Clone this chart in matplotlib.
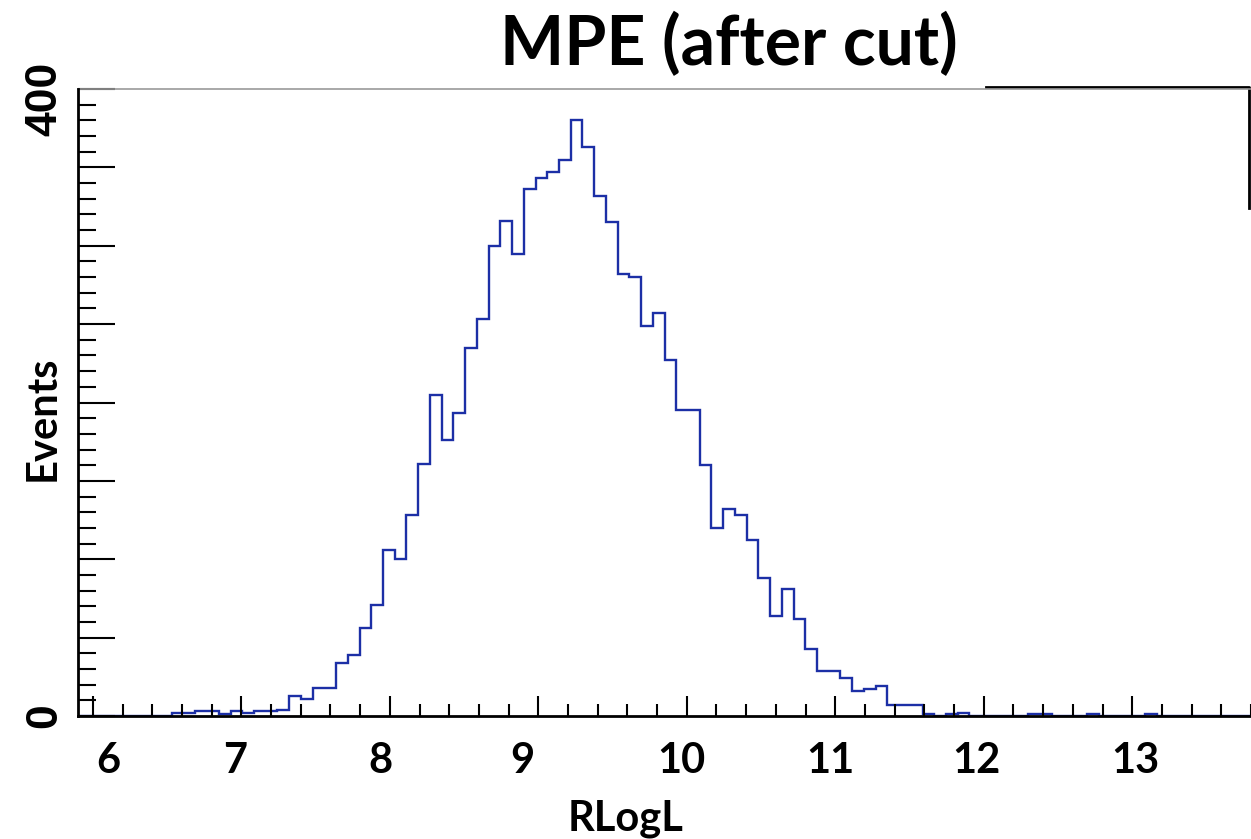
import numpy as np
import matplotlib.pyplot as plt
from matplotlib.ticker import MultipleLocator
from matplotlib.transforms import ScaledTranslation

# histogram binning (100 bins)
x_lo, x_hi, n_bins = 5.9, 13.8, 100
counts = [
    0, 0, 0, 0, 0, 0, 0, 0,
    2, 2, 3, 3, 1, 3, 2, 3, 3, 4,
    13, 11, 18, 18, 34, 39, 56, 71, 106, 100,
    128, 161, 205, 176, 193, 235, 253, 300, 316, 295,
    336, 343, 347, 355, 380, 363, 332, 315, 282, 280,
    249, 257, 227, 195, 195, 160, 120, 132, 128, 112,
    88, 64, 81, 62, 43, 29, 29, 24, 16, 17,
    19, 7, 7, 7, 1, 0, 1, 2, 0, 0,
    0, 0, 0, 1, 1, 0, 0, 0, 1, 0,
    0, 0, 0, 1, 0, 0, 0, 0, 0, 0,
    0, 0,
]
x_ticks = [6, 7, 8, 9, 10, 11, 12, 13]
x_tick_labels = ["6", "7", "8", "9", "10", "11", "12", "13"]
# hand placed labels in the original, pixel nudges
x_label_nudge = [15, -6, -9, -16, -5, -5, -7, 3]
y_ticks = [0, 50, 100, 150, 200, 250, 300, 350, 400]
y_tick_labels = ["0", "", "", "", "", "", "", "", "400"]

line_col = "#1c2fa6"
lab_font = "Lato"

fig = plt.figure(figsize=(12.51, 8.39), dpi=100)
ax = fig.add_axes([0.0624, 0.1466, 0.9376, 0.7473])

edges = np.linspace(x_lo, x_hi, n_bins + 1)
ax.stairs(counts, edges, color=line_col, linewidth=1.7, baseline=0, zorder=1)

ax.set_xlim(x_lo, x_hi)
ax.set_ylim(0, 400)

ax.set_xticks(x_ticks, x_tick_labels)
ax.xaxis.set_minor_locator(MultipleLocator(0.2))
ax.set_yticks(y_ticks, y_tick_labels)
ax.yaxis.set_minor_locator(MultipleLocator(10))

ax.tick_params(axis="x", which="major", direction="in", length=14.4, width=1.5,
               pad=19, labelsize=30)
ax.tick_params(axis="x", which="minor", direction="in", length=8.4, width=1.5)
ax.tick_params(axis="y", which="major", direction="in", length=26.6, width=1.5,
               pad=9, labelsize=32)
ax.tick_params(axis="y", which="minor", direction="in", length=13, width=1.5)

for lab in ax.get_xticklabels():
    lab.set_fontfamily(lab_font)
    lab.set_fontweight("bold")
for lab, dx in zip(ax.get_xticklabels(), x_label_nudge):
    lab.set_transform(lab.get_transform() + ScaledTranslation(dx / 100, 0, fig.dpi_scale_trans))

for lab in ax.get_yticklabels():
    lab.set_fontfamily("Liberation Sans")
    lab.set_fontweight("bold")
    lab.set_rotation(90)
    lab.set_va("center")
ylabs = ax.get_yticklabels()
ylabs[-1].set_transform(ylabs[-1].get_transform() + ScaledTranslation(0, -10 / 100, fig.dpi_scale_trans))

for s in ["left", "bottom"]:
    ax.spines[s].set_linewidth(2)
    ax.spines[s].set_zorder(3)
ax.spines["right"].set_visible(False)
ax.spines["top"].set_color("#999999")
ax.spines["top"].set_linewidth(1.2)
# black frame piece at the top right of the original
ax.plot([0.774, 0.998, 0.998], [1.003, 1.003, 0.81], transform=ax.transAxes,
        color="black", lw=2, clip_on=False)

fig.text(0.583, 0.9225, "MPE (after cut)", fontsize=49, fontweight="bold",
         family=lab_font, ha="center", va="baseline")
fig.text(0.5, 1 - 830 / 839, "RLogL", fontsize=30, fontweight="bold",
         family=lab_font, ha="center", va="baseline")
fig.text(55 / 1251, 1 - 418 / 839, "Events", fontsize=30, fontweight="bold",
         family=lab_font, rotation=90, rotation_mode="anchor",
         ha="center", va="baseline")

fig.savefig("out.png", dpi=100)
